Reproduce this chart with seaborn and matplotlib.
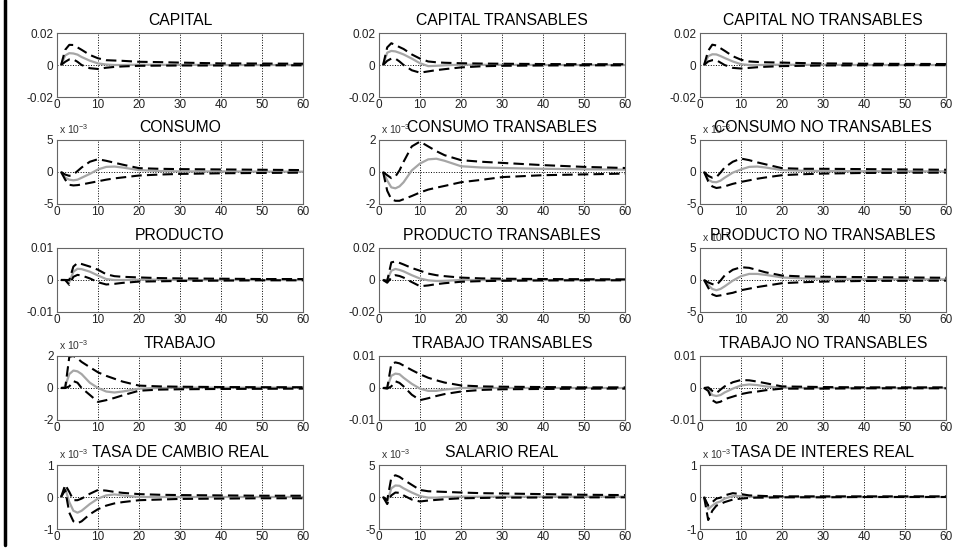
import matplotlib
matplotlib.use("Agg")
import matplotlib.pyplot as plt
from matplotlib.lines import Line2D
import seaborn as sns

sns.set_theme(style="white")
plt.rcParams['font.family'] = ['Liberation Sans', 'DejaVu Sans']
plt.rcParams['mathtext.fontset'] = 'custom'
plt.rcParams['mathtext.rm'] = 'Liberation Sans'

horizon = [1, 2, 3, 4, 5, 6, 8, 10, 12, 14, 16, 20, 25, 30, 40, 50, 60]

capital_hi = [0, .0095, .0126, .0125, .011, .0095, .0063, .0042, .003, .0028, .0026, .002, .0018, .0015, .001, .0009, .0008]
capital_med = [0, .006, .0074, .0072, .0065, .005, .0027, .001, .0003, 0, 0, .0002, .0001, .0001, 0, 0, 0]
capital_lo = [0, .002, .0035, .0035, .002, 0, -.002, -.0025, -.0017, -.0012, -.0009, -.0005, -.0004, -.0003, -.0003, -.0002, -.0002]

capital_t_hi = [0, .011, .0136, .0125, .0112, .01, .0066, .004, .0022, .0017, .0014, .0011, .0009, .0008, .0006, .0005, .0005]
capital_t_med = [0, .0077, .0088, .0085, .0076, .0066, .004, .0011, -.0007, -.0005, -.0002, .0002, .0001, .0001, 0, 0, 0]
capital_t_lo = [0, .0026, .004, .004, .0022, 0, -.0033, -.0048, -.004, -.0032, -.0026, -.0015, -.0008, -.0005, -.0003, -.0002, -.0002]

capital_nt_hi = [0, .0089, .0127, .0122, .0105, .0089, .0055, .0033, .0022, .0019, .0017, .0015, .0012, .001, .0008, .0007, .0006]
capital_nt_med = [0, .0055, .0067, .0066, .0056, .0044, .0022, .0005, 0, 0, 0, .0002, .0001, .0001, 0, 0, 0]
capital_nt_lo = [0, .0022, .003, .003, .0015, 0, -.0018, -.0022, -.0018, -.0014, -.0011, -.0007, -.0005, -.0003, -.0002, -.0001, -.0001]

# x 10^-3
consumo_hi = [0, -.4, -.6, -.4, .15, .7, 1.6, 2.0, 1.75, 1.45, 1.15, .6, .5, .45, .4, .35, .3]
consumo_med = [0, -.9, -1.2, -1.3, -1.2, -.9, -.3, .4, .8, .85, .7, .3, .15, .1, .08, .06, .05]
consumo_lo = [0, -1.2, -2.0, -2.1, -2.05, -1.95, -1.7, -1.45, -1.2, -1.0, -.85, -.55, -.4, -.3, -.2, -.15, -.1]

consumo_t_hi = [0, -.2, -.38, -.28, .1, .64, 1.6, 1.9, 1.6, 1.3, 1.05, .74, .64, .57, .43, .32, .25]
consumo_t_med = [0, -.53, -.96, -1.02, -.9, -.64, .1, .53, .79, .83, .7, .36, .28, .25, .2, .17, .15]
consumo_t_lo = [0, -1.17, -1.7, -1.8, -1.8, -1.7, -1.5, -1.28, -1.1, -.98, -.87, -.64, -.49, -.32, -.2, -.15, -.1]

consumo_nt_hi = [0, -.6, -.9, -.8, -.1, .7, 1.6, 2.1, 1.85, 1.5, 1.2, .6, .5, .5, .45, .4, .35]
consumo_nt_med = [0, -1.2, -1.55, -1.6, -1.35, -.9, -.1, .4, .8, .85, .7, .3, .2, .15, .12, .1, .1]
consumo_nt_lo = [0, -1.45, -2.25, -2.5, -2.4, -2.25, -1.85, -1.55, -1.3, -1.05, -.85, -.5, -.35, -.25, -.15, -.12, -.1]

producto_hi = [0, 0, 0, .0042, .0053, .005, .0042, .0032, .0018, .0012, .001, .0008, .0006, .0005, .0004, .0003, .0003]
producto_med = [0, 0, -.0007, .0026, .0035, .0034, .0026, .0014, .0003, 0, 0, .0001, .0001, 0, 0, 0, 0]
producto_lo = [0, 0, -.0015, .001, .0016, .0014, .0005, -.0007, -.0014, -.0012, -.0009, -.0005, -.0004, -.0003, -.0002, -.0001, -.0001]

producto_t_hi = [0, -.0006, .011, .0116, .0107, .0097, .0075, .0058, .004, .003, .0024, .0015, .001, .0008, .0006, .0005, .0004]
producto_t_med = [0, 0, .0058, .0069, .0063, .0054, .003, .0009, -.0002, -.0006, -.0005, 0, 0, 0, 0, 0, 0]
producto_t_lo = [0, -.0017, .0015, .003, .0025, .0015, -.0013, -.0039, -.0034, -.0026, -.002, -.0011, -.0007, -.0005, -.0003, -.0002, -.0002]

producto_nt_hi = [0, -.37, -.64, -.8, -.1, .7, 1.6, 2.0, 1.9, 1.55, 1.2, .7, .55, .5, .45, .4, .35]
producto_nt_med = [0, -.8, -1.4, -1.6, -1.4, -1.0, -.1, .6, .95, .95, .8, .4, .25, .2, .15, .12, .1]
producto_nt_lo = [0, -1.2, -2.25, -2.5, -2.4, -2.25, -2.0, -1.6, -1.35, -1.1, -.9, -.5, -.35, -.25, -.15, -.12, -.1]

trabajo_hi = [0, 0, 1.95, 2.0, 1.85, 1.63, 1.3, .98, .76, .58, .4, .15, .1, .08, .06, .05, .05]
trabajo_med = [0, .1, .87, 1.09, 1.04, .87, .33, 0, -.22, -.28, -.22, -.04, 0, .02, .02, .02, .02]
trabajo_lo = [0, 0, .1, .43, .33, 0, -.43, -.87, -.76, -.62, -.46, -.17, -.1, -.08, -.06, -.05, -.04]

trabajo_t_hi = [0, 0, .0075, .008, .0077, .007, .0056, .0043, .0032, .0024, .0017, .0008, .0005, .0004, .0003, .0002, .0002]
trabajo_t_med = [0, .0002, .0038, .0045, .0043, .0032, .0013, -.0002, -.0009, -.0009, -.0005, 0, 0, 0, 0, 0, 0]
trabajo_t_lo = [0, -.0002, .0005, .0021, .0016, .0005, -.0021, -.0038, -.0032, -.0025, -.0019, -.0011, -.0006, -.0004, -.0003, -.0002, -.0002]

trabajo_nt_hi = [0, .0002, -.0009, -.0016, -.0005, .0005, .0018, .0025, .0024, .002, .0015, .0005, .0004, .0003, .0002, .0002, .0002]
trabajo_nt_med = [0, -.0005, -.0022, -.0025, -.0022, -.0014, -.0002, .0008, .0011, .0009, .0005, .0001, 0, 0, 0, 0, 0]
trabajo_nt_lo = [0, -.0009, -.0038, -.0046, -.0043, -.0035, -.0027, -.0019, -.0014, -.0011, -.0007, -.0002, -.0002, -.0002, -.0001, -.0001, -.0001]

tcr_hi = [0, .38, .16, -.1, -.1, -.05, .1, .22, .2, .16, .13, .09, .07, .06, .05, .04, .04]
tcr_med = [0, .27, -.16, -.43, -.49, -.43, -.22, -.05, .05, .08, .05, 0, 0, 0, 0, 0, 0]
tcr_lo = [0, .22, -.49, -.76, -.82, -.76, -.54, -.38, -.27, -.2, -.16, -.1, -.08, -.06, -.05, -.04, -.04]

salario_hi = [0, -.5, 3.0, 3.4, 3.15, 2.7, 1.9, 1.1, .9, .85, .8, .7, .6, .55, .45, .35, .3]
salario_med = [0, -.8, 1.35, 1.8, 1.75, 1.35, .7, .15, -.1, -.1, 0, .05, .05, .05, .05, .05, .05]
salario_lo = [0, -1.1, .25, .7, .65, .25, -.4, -.7, -.55, -.45, -.35, -.2, -.15, -.1, -.08, -.06, -.05]

tir_hi = [0, -.27, -.16, -.05, -.02, .05, .12, .09, .05, .04, .03, .02, .02, .02, .02, .02, .02]
tir_med = [0, -.38, -.27, -.18, -.14, -.05, .03, .03, .01, 0, 0, 0, 0, 0, 0, 0, 0]
tir_lo = [0, -.72, -.43, -.27, -.22, -.16, -.08, -.05, -.03, -.02, -.02, -.01, -.01, -.01, 0, 0, 0]

titles = ["CAPITAL", "CAPITAL TRANSABLES", "CAPITAL NO TRANSABLES",
          "CONSUMO", "CONSUMO TRANSABLES", "CONSUMO NO TRANSABLES",
          "PRODUCTO", "PRODUCTO TRANSABLES", "PRODUCTO NO TRANSABLES",
          "TRABAJO", "TRABAJO TRANSABLES", "TRABAJO NO TRANSABLES",
          "TASA DE CAMBIO REAL", "SALARIO REAL", "TASA DE INTERES REAL"]
y_limits = [0.02, 0.02, 0.02, 5, 2, 5, 0.01, 0.02, 5, 2, 0.01, 0.01, 1, 5, 1]
y_top_labels = ["0.02", "0.02", "0.02", "5", "2", "5", "0.01", "0.02", "5",
                "2", "0.01", "0.01", "1", "5", "1"]
scaled = [False, False, False, True, True, True, False, False, True,
          True, False, False, True, True, True]
x_ticks = [0, 10, 20, 30, 40, 50, 60]

series = [
    (capital_hi, capital_med, capital_lo),
    (capital_t_hi, capital_t_med, capital_t_lo),
    (capital_nt_hi, capital_nt_med, capital_nt_lo),
    (consumo_hi, consumo_med, consumo_lo),
    (consumo_t_hi, consumo_t_med, consumo_t_lo),
    (consumo_nt_hi, consumo_nt_med, consumo_nt_lo),
    (producto_hi, producto_med, producto_lo),
    (producto_t_hi, producto_t_med, producto_t_lo),
    (producto_nt_hi, producto_nt_med, producto_nt_lo),
    (trabajo_hi, trabajo_med, trabajo_lo),
    (trabajo_t_hi, trabajo_t_med, trabajo_t_lo),
    (trabajo_nt_hi, trabajo_nt_med, trabajo_nt_lo),
    (tcr_hi, tcr_med, tcr_lo),
    (salario_hi, salario_med, salario_lo),
    (tir_hi, tir_med, tir_lo),
]

W, H = 958, 555
fig = plt.figure(figsize=(W / 100, H / 100), dpi=100)
fig.patch.set_facecolor("white")

col_left = [57, 379, 700]
row_top = [33, 140, 248, 356, 465]
ax_w, ax_h = 246, 64

for i, (hi, med, lo) in enumerate(series):
    r, c = divmod(i, 3)
    ax = fig.add_axes([col_left[c] / W, 1 - (row_top[r] + ax_h) / H, ax_w / W, ax_h / H])
    ax.set_facecolor("white")

    # grey median, black dashed bands
    sns.lineplot(x=horizon, y=med, ax=ax, color="#a6a6a6", linewidth=1.6)
    sns.lineplot(x=horizon, y=hi, ax=ax, color="black", linewidth=1.5, dashes=False)
    sns.lineplot(x=horizon, y=lo, ax=ax, color="black", linewidth=1.5, dashes=False)
    for ln in ax.lines[1:]:
        ln.set_dashes((5, 2.5))

    lim = y_limits[i]
    ax.set_xlim(0, 60)
    ax.set_ylim(-lim, lim)
    ax.set_xticks(x_ticks)
    ax.set_xticklabels([str(t) for t in x_ticks])
    ax.set_yticks([-lim, 0, lim])
    ax.set_yticklabels(["-" + y_top_labels[i], "0", y_top_labels[i]])
    ax.grid(True, linestyle=":", color="black", linewidth=0.7)
    ax.tick_params(direction="in", length=3, width=0.6, colors="#555555",
                   labelcolor="#222222", labelsize=8.5)
    ax.tick_params(axis="x", pad=1.5)
    ax.tick_params(axis="y", pad=2.5)
    for sp in ax.spines.values():
        sp.set_visible(True)
        sp.set_color("#666666")
        sp.set_linewidth(0.8)
    ax.set_title(titles[i], fontsize=11.3, pad=6, color="black")
    if scaled[i]:
        ax.text(0.01, 1.06, r"x 10$^{\mathregular{-3}}$", transform=ax.transAxes,
                fontsize=7.5, color="#333333", ha="left", va="bottom")

# thick black border on the left edge
fig.add_artist(Line2D([4.5 / W, 4.5 / W], [1 - 545 / H, 1], transform=fig.transFigure,
                      color="black", linewidth=2.5))

fig.savefig("out.png", dpi=100, facecolor="white")
